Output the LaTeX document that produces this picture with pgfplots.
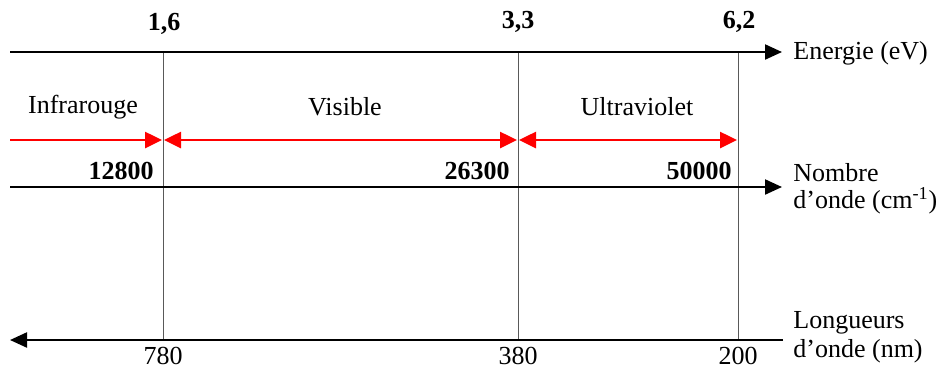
\documentclass[border=0pt]{standalone}
\usepackage{pgfplots}
\pgfplotsset{compat=1.18}
\usetikzlibrary{arrows.meta}
\usepackage{fontspec}
\setmainfont{Liberation Serif}

\begin{document}
\begin{tikzpicture}
\begin{axis}[
    scale only axis,
    width=469.5pt, height=184.5pt,
    xmin=0, xmax=939, ymin=0, ymax=369,
    y dir=reverse,
    hide axis,
    clip=false,
]
\tikzset{
    blk/.style={black, line width=1.1pt, -{Triangle[length=8.5pt,width=7.5pt]}},
    red2/.style={red, line width=1.3pt, {Triangle[length=8.5pt,width=8pt]}-{Triangle[length=8.5pt,width=8pt]}},
    red1/.style={red, line width=1.3pt, -{Triangle[length=8.5pt,width=8pt]}},
    font=\fontsize{13}{15}\selectfont
}
% corners keep the page size
\addplot[draw=none] coordinates {(0,0) (939,369)};

% vertical separators
\addplot[gray!70!black, line width=0.5pt] coordinates {(163,52) (163,340)};
\addplot[gray!70!black, line width=0.5pt] coordinates {(518,52) (518,340)};
\addplot[gray!70!black, line width=0.5pt] coordinates {(738,52) (738,340)};

% axes
\addplot[blk] coordinates {(10,52) (782,52)};
\addplot[blk] coordinates {(10,187) (782,187)};
\addplot[blk] coordinates {(783,340) (10,340)};

% domains
\addplot[red1] coordinates {(10,140) (162,140)};
\addplot[red2] coordinates {(164,140) (517,140)};
\addplot[red2] coordinates {(519,140) (737,140)};

% energy
\node[font=\fontsize{13}{15}\selectfont\bfseries] at (axis cs:164,24) {1,6};
\node[font=\fontsize{13}{15}\selectfont\bfseries] at (axis cs:518,22) {3,3};
\node[font=\fontsize{13}{15}\selectfont\bfseries] at (axis cs:739,22) {6,2};
\node[anchor=west, inner sep=0pt] at (axis cs:793,53) {Energie (eV)};

% regions
\node at (axis cs:83,107) {Infrarouge};
\node at (axis cs:345,107) {Visible};
\node at (axis cs:637,107) {Ultraviolet};

% wavenumbers
\node[anchor=east, inner sep=0pt, font=\fontsize{13}{15}\selectfont\bfseries] at (axis cs:154,171) {12800};
\node[anchor=east, inner sep=0pt, font=\fontsize{13}{15}\selectfont\bfseries] at (axis cs:510,171) {26300};
\node[anchor=east, inner sep=0pt, font=\fontsize{13}{15}\selectfont\bfseries] at (axis cs:732,171) {50000};
\node[anchor=west, inner sep=0pt] at (axis cs:793,173) {Nombre};
\node[anchor=west, inner sep=0pt] at (axis cs:793,201) {d’onde (cm\textsuperscript{-1})};

% wavelengths
\node at (axis cs:163,356) {780};
\node at (axis cs:518,356) {380};
\node at (axis cs:738,356) {200};
\node[anchor=west, inner sep=0pt] at (axis cs:793,323) {Longueurs};
\node[anchor=west, inner sep=0pt] at (axis cs:793,351) {d’onde (nm)};
\end{axis}
\end{tikzpicture}
\end{document}
